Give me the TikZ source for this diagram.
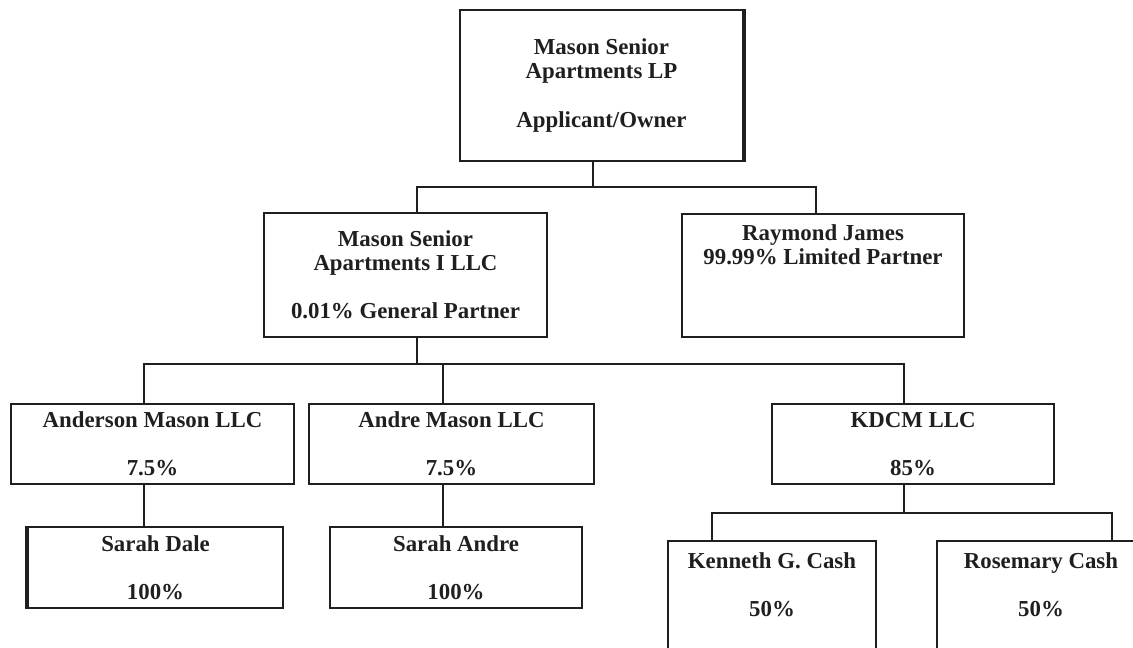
\documentclass[tikz,border=0pt]{standalone}
\usepackage{fontspec}
\setmainfont{Liberation Serif}
\usetikzlibrary{positioning}
\definecolor{ink}{rgb}{0.12,0.12,0.12}

\newcommand{\orgfont}{\fontsize{13}{13.66}\selectfont\bfseries}

\tikzset{
  box/.style={draw=ink, line width=0.9pt, rectangle, align=center, inner sep=0pt, font=\orgfont, text=ink},
  txt/.style={align=center, inner sep=0pt, font=\orgfont, text=ink},
  wire/.style={draw=ink, line width=0.8pt}
}

\begin{document}
\begin{tikzpicture}[x=0.02cm,y=-0.02cm]
\useasboundingbox (0,0) rectangle (1133,648);
\clip (0,0) rectangle (1133,648);

% partnership
\node[box, minimum width=5.66cm, minimum height=3.02cm] (owner)    at (601.5,85.5) {Mason Senior\\Apartments LP\\[13.7pt]Applicant/Owner};
\node[box, minimum width=5.66cm, minimum height=2.48cm] (gp)       at (405.5,275)  {Mason Senior\\Apartments I LLC\\[13.7pt]0.01\% General Partner};
\node[box, minimum width=5.64cm, minimum height=2.46cm] (lp)       at (823,275.5)  {};
\node[txt, below=0.23cm of lp.north] (lptxt) {Raymond James\\99.99\% Limited Partner};

% members of the GP
\node[box, minimum width=5.66cm, minimum height=1.6cm]  (anderson) at (152.5,444)  {Anderson Mason LLC\\[13.7pt]7.5\%};
\node[box, minimum width=5.70cm, minimum height=1.6cm]  (andre)    at (451.5,444)  {Andre Mason LLC\\[13.7pt]7.5\%};
\node[box, minimum width=5.64cm, minimum height=1.6cm]  (kdcm)     at (913,444)    {KDCM LLC\\[13.7pt]85\%};

% individual owners
\node[box, minimum width=5.10cm, minimum height=1.62cm] (dale)     at (155.5,567.5) {Sarah Dale\\[13.7pt]100\%};
\node[box, minimum width=5.04cm, minimum height=1.62cm] (sandre)   at (456,567.5)   {Sarah Andre\\[13.7pt]100\%};
\node[box, minimum width=4.16cm, minimum height=3.2cm]  (kenneth)  at (772,621)     {};
\node[box, minimum width=4.16cm, minimum height=3.2cm]  (rosemary) at (1041,621)    {};
\node[txt, below=0.24cm of kenneth.north]  (kentxt)  {Kenneth G. Cash\\[13.7pt]50\%};
\node[txt, below=0.24cm of rosemary.north] (rosetxt) {Rosemary Cash\\[13.7pt]50\%};

% heavier sides
\draw[ink, line width=2pt] (owner.north east) -- (owner.south east);
\draw[ink, line width=2pt] (dale.north west) -- (dale.south west);

% stems and bus levels
\foreach \n/\x in {owner/593, gp/417, lp/816, anderson/144, andre/443, kdcm/904,
                   dale/144, sandre/443, kenneth/712, rosemary/1112} {
  \coordinate (\n-n) at (\x,0 |- \n.north);
  \coordinate (\n-s) at (\x,0 |- \n.south);
}
\coordinate (bus1) at (0,187);
\coordinate (bus2) at (0,364);
\coordinate (bus3) at (0,513);

\path[wire]
    (owner-s) -- (owner-s |- bus1)
    (gp-n) |- (lp-n |- bus1) -- (lp-n)
    (gp-s) -- (gp-s |- bus2)
    (anderson-n) |- (kdcm-n |- bus2) -- (kdcm-n)
    (andre-n) -- (andre-n |- bus2)
    (anderson-s) -- (dale-n)
    (andre-s) -- (sandre-n)
    (kdcm-s) -- (kdcm-s |- bus3)
    (kenneth-n) |- (rosemary-n |- bus3) -- (rosemary-n);
\end{tikzpicture}
\end{document}
